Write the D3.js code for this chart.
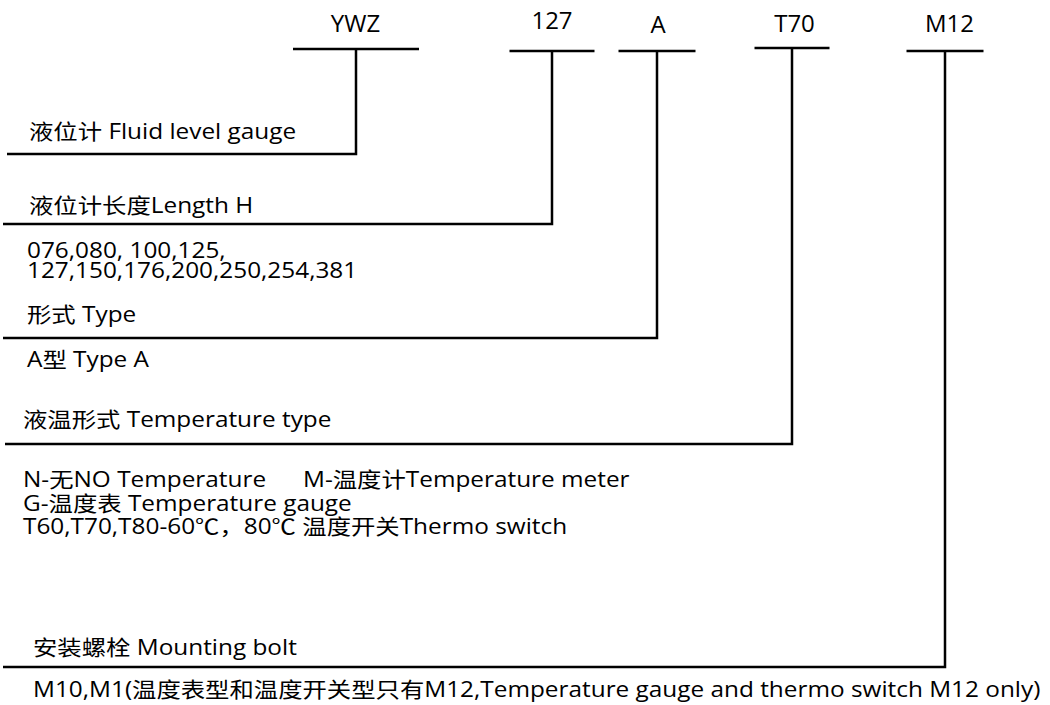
<!DOCTYPE html>
<html>
<head>
<meta charset="utf-8">
<script src="https://cdn.jsdelivr.net/npm/d3@7/dist/d3.min.js"></script>
<style>
  html, body { margin: 0; padding: 0; background: #fff; }
  svg text { font-family: "Open Sans", "Noto Sans CJK SC", sans-serif; fill: #000; }
</style>
</head>
<body>
<svg id="chart" width="1050" height="705"></svg>
<script>
// ---- data ----
const codes = ["YWZ", "127", "A", "T70", "M12"];
const codeTitles = [
  "液位计 Fluid level gauge",
  "液位计长度Length H",
  "形式 Type",
  "液温形式 Temperature type",
  "安装螺栓 Mounting bolt"
];
const lengthOptions = ["076,080, 100,125,", "127,150,176,200,250,254,381"];
const typeOptions = ["A型 Type A"];
const tempOptionsA = ["N-无NO Temperature", "G-温度表 Temperature gauge", "T60,T70,T80-60℃，80℃ 温度开关Thermo switch"];
const tempOptionsB = ["M-温度计Temperature meter"];
const boltOptions = ["M10,M1(温度表型和温度开关型只有M12,Temperature gauge and thermo switch M12 only)"];

// ---- layout (pixels) ----
const L = {
  stemX:   [356, 552, 657, 792, 945],
  barHalf: [63, 42.5, 38.5, 37.5, 38.5],
  barY:    [49, 51, 51, 48, 51],
  labelX:  [355.5, 552, 658, 794.5, 949.5],
  labelY:  [32, 29, 33, 32, 32],
  elbowY:  [154, 224, 338, 444, 667],
  elbowX0: [7, 3, 3, 5, 3],
  titleX:  [29, 29, 27, 23, 33],
  titleY:  [139, 213, 322, 427, 655],
  fontTop: 24,
  font: 21,
  stretch: 1.16,
  stroke: 2.5
};

const svg = d3.select("#chart");
const idx = d3.range(codes.length);

// top code labels
svg.selectAll("text.code").data(idx).join("text")
  .attr("class", "code")
  .attr("x", i => L.labelX[i]).attr("y", i => L.labelY[i])
  .attr("text-anchor", "middle")
  .style("font-size", L.fontTop + "px")
  .text(i => codes[i]);

// T-bar + stem + elbow
const line = d3.line();
svg.selectAll("path.bar").data(idx).join("path")
  .attr("class", "bar")
  .attr("d", i => line([[L.stemX[i] - L.barHalf[i], L.barY[i]], [L.stemX[i] + L.barHalf[i], L.barY[i]]]))
  .attr("stroke", "#000").attr("stroke-width", L.stroke).attr("fill", "none");
svg.selectAll("path.stem").data(idx).join("path")
  .attr("class", "stem")
  .attr("d", i => line([[L.stemX[i], L.barY[i]], [L.stemX[i], L.elbowY[i]], [L.elbowX0[i], L.elbowY[i]]]))
  .attr("stroke", "#000").attr("stroke-width", L.stroke).attr("fill", "none")
  .attr("stroke-linejoin", "miter");

function stretchedText(sel) {
  return sel.style("font-size", L.font + "px");
}

// titles
svg.selectAll("text.title").data(idx).join("text")
  .attr("class", "title")
  .attr("transform", i => `translate(${L.titleX[i]},${L.titleY[i]}) scale(${L.stretch},1)`)
  .style("font-size", L.font + "px")
  .text(i => codeTitles[i]);

// option blocks
function block(lines, x, y0, dy) {
  svg.append("g").selectAll("text").data(lines).join("text")
    .attr("transform", (d, j) => `translate(${x},${y0 + j * dy}) scale(${L.stretch},1)`)
    .style("font-size", L.font + "px")
    .text(d => d);
}
block(lengthOptions, 27, 258, 20);
block(typeOptions, 27, 367, 0);
block(tempOptionsA, 23, 487, 23.5);
block(tempOptionsB, 303, 487, 23.5);
block(boltOptions, 33, 697, 0);
</script>
</body>
</html>
